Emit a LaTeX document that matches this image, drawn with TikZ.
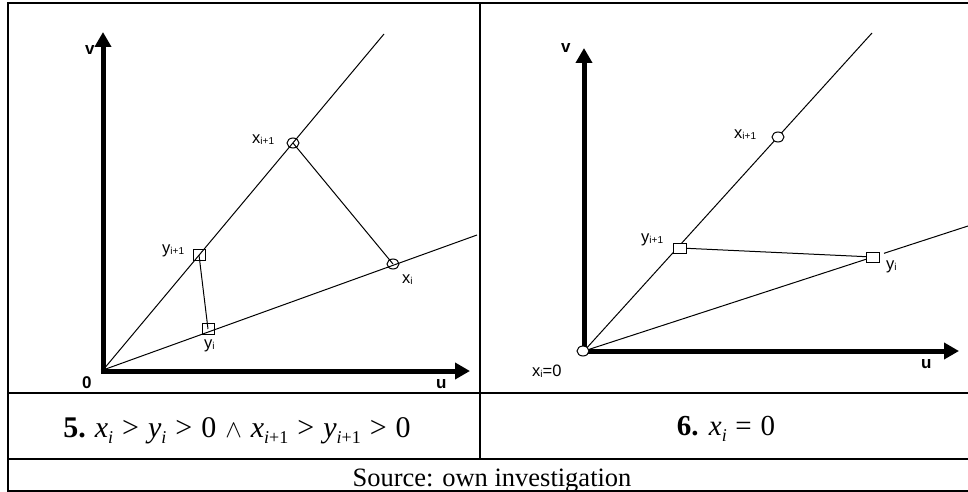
\documentclass[tikz,border=0pt]{standalone}
\usepackage{fontspec}
\setmainfont{Liberation Serif}
\newfontfamily\arialf{Liberation Sans}
\usetikzlibrary{arrows.meta,shapes.geometric}
\newcommand{\lbl}[2]{#1\raisebox{-1.8pt}{\fontsize{10}{11}\selectfont #2}}
\newcommand{\mv}[2]{\textit{#1}\raisebox{-0.22em}{\fontsize{18}{19}\selectfont #2}}
\newcommand{\rgt}{\hspace{0.3em}>\hspace{0.3em}}
\begin{document}
\begin{tikzpicture}[x=1pt,y=-1pt,
  axis/.style={line width=5pt,-{Triangle[width=16pt,length=15pt]}},
  thin/.style={line width=1pt},
  gridl/.style={line width=1.6pt},
  ptc/.style={ellipse,draw,line width=1pt,minimum width=12pt,minimum height=10pt,inner sep=0pt},
  pts/.style={rectangle,draw,line width=1pt,minimum width=12pt,minimum height=11pt,inner sep=0pt},
  lab/.style={font=\arialf\fontsize{16.5}{17}\selectfont,inner sep=0pt,anchor=base west},
  blab/.style={font=\arialf\bfseries\fontsize{17}{18}\selectfont,inner sep=0pt,anchor=base west},
  captxt/.style={inner sep=0pt,anchor=base}]
\useasboundingbox (0,0) rectangle (968,492);
% table grid
\coordinate (TL) at (8,3);
\coordinate (TR) at (968,3);
\coordinate (BL) at (8,491);
\coordinate (BR) at (968,491);
\coordinate (D1) at (480,3);
\coordinate (D2) at (480,459);
\coordinate (H1a) at (8,393);
\coordinate (H1b) at (968,393);
\coordinate (H2a) at (8,459);
\coordinate (H2b) at (968,459);
\draw[gridl] (TR) -- (TL) -- (BL) -- (BR);
\draw[gridl] (D1) -- (D2);
\draw[gridl] (H1a) -- (H1b);
\draw[gridl] (H2a) -- (H2b);

% ---------- left panel ----------
\coordinate (O1) at (103,370);
\coordinate (LU) at (384,34);
\coordinate (LL) at (477,235);
\coordinate (LVs) at (103,373.5);
\coordinate (LVe) at (103,32);
\coordinate (LHs) at (100.5,371);
\coordinate (LHe) at (470,371);
\coordinate (LNa) at (200,368.8);
\coordinate (LNb) at (238,368.8);
\node[pts] (Ly1) at (199,255) {};
\node[pts] (Ly0) at (208,329) {};
\node[ptc] (Lx1) at (293,143) {};
\node[ptc] (Lx0) at (393,264) {};
\draw[thin] (O1) -- (LU);
\draw[thin] (O1) -- (LL);
\draw[thin] (Lx1.center) -- (Lx0.center);
\draw[thin] (Ly1.center) -- (Ly0.center);
\draw[axis] (LVs) -- (LVe);
\draw[axis] (LHs) -- (LHe);
\draw[white,line width=0.8pt] (LNa) -- (LNb);
\node[blab] (Lv) at (85,55) {v};
\node[blab] (L0) at (82,388) {0};
\node[blab] (Lu) at (436,388) {u};
\node[lab] (Lx1l) at (252,143) {\lbl{x}{i+1}};
\node[lab] (Ly1l) at (162,253) {\lbl{y}{i+1}};
\node[lab] (Lx0l) at (402,283) {\lbl{x}{i}};
\node[lab] (Ly0l) at (204,348) {\lbl{y}{i}};

% ---------- right panel ----------
\coordinate (O2) at (584,351);
\coordinate (RU) at (872,33);
\coordinate (RLa) at (884,253.3);
\coordinate (RLb) at (968,226);
\coordinate (RVs) at (584,353.5);
\coordinate (RVe) at (584,48);
\coordinate (RHs) at (581.5,351);
\coordinate (RHe) at (959,351);
\node[pts,fill=white,minimum width=13pt,minimum height=10pt] (Ry1) at (680,248) {};
\node[pts,fill=white,minimum width=13pt,minimum height=10pt] (Ry0) at (873,257) {};
\draw[thin] (O2) -- (RU);
\draw[thin] (O2) -- (Ry0);
\draw[thin] (RLa) -- (RLb);
\draw[thin] (Ry1) -- (Ry0);
\draw[axis] (RVs) -- (RVe);
\draw[axis] (RHs) -- (RHe);
\node[pts,fill=white,minimum width=13pt,minimum height=10pt] at (Ry1) {};
\node[pts,fill=white,minimum width=13pt,minimum height=10pt] at (Ry0) {};
\node[ptc,fill=white] (Rx1) at (778,137) {};
\node[ptc,fill=white] (Rx0) at (583,351) {};
\node[blab] (Rv) at (561,53) {v};
\node[blab] (Ru) at (921,368) {u};
\node[lab] (Rx1l) at (734,138) {\lbl{x}{i+1}};
\node[lab] (Ry1l) at (641,242) {\lbl{y}{i+1}};
\node[lab] (Ry0l) at (886,269) {\lbl{y}{i}};
\node[lab] (Rx0l) at (532,376) {\lbl{x}{i}=0};

% ---------- captions ----------
\node[captxt,font=\fontsize{30}{35}\selectfont] (C5) at (237,437)
  {\textbf{5.}\hspace{0.3em}\mv{x}{\textit{i}}\rgt\mv{y}{\textit{i}}\rgt 0\hspace{0.3em}$\wedge$\hspace{0.3em}\mv{x}{\textit{i}+1}\rgt\mv{y}{\textit{i}+1}\rgt 0};
\node[captxt,font=\fontsize{29}{34}\selectfont] (C6) at (726,435)
  {\textbf{6.}\hspace{0.35em}\mv{x}{\textit{i}}\hspace{0.3em}=\hspace{0.3em}0};
\node[captxt,font=\fontsize{26.5}{31}\selectfont] (CS) at (492,486) {Source: own investigation};
\end{tikzpicture}
\end{document}
